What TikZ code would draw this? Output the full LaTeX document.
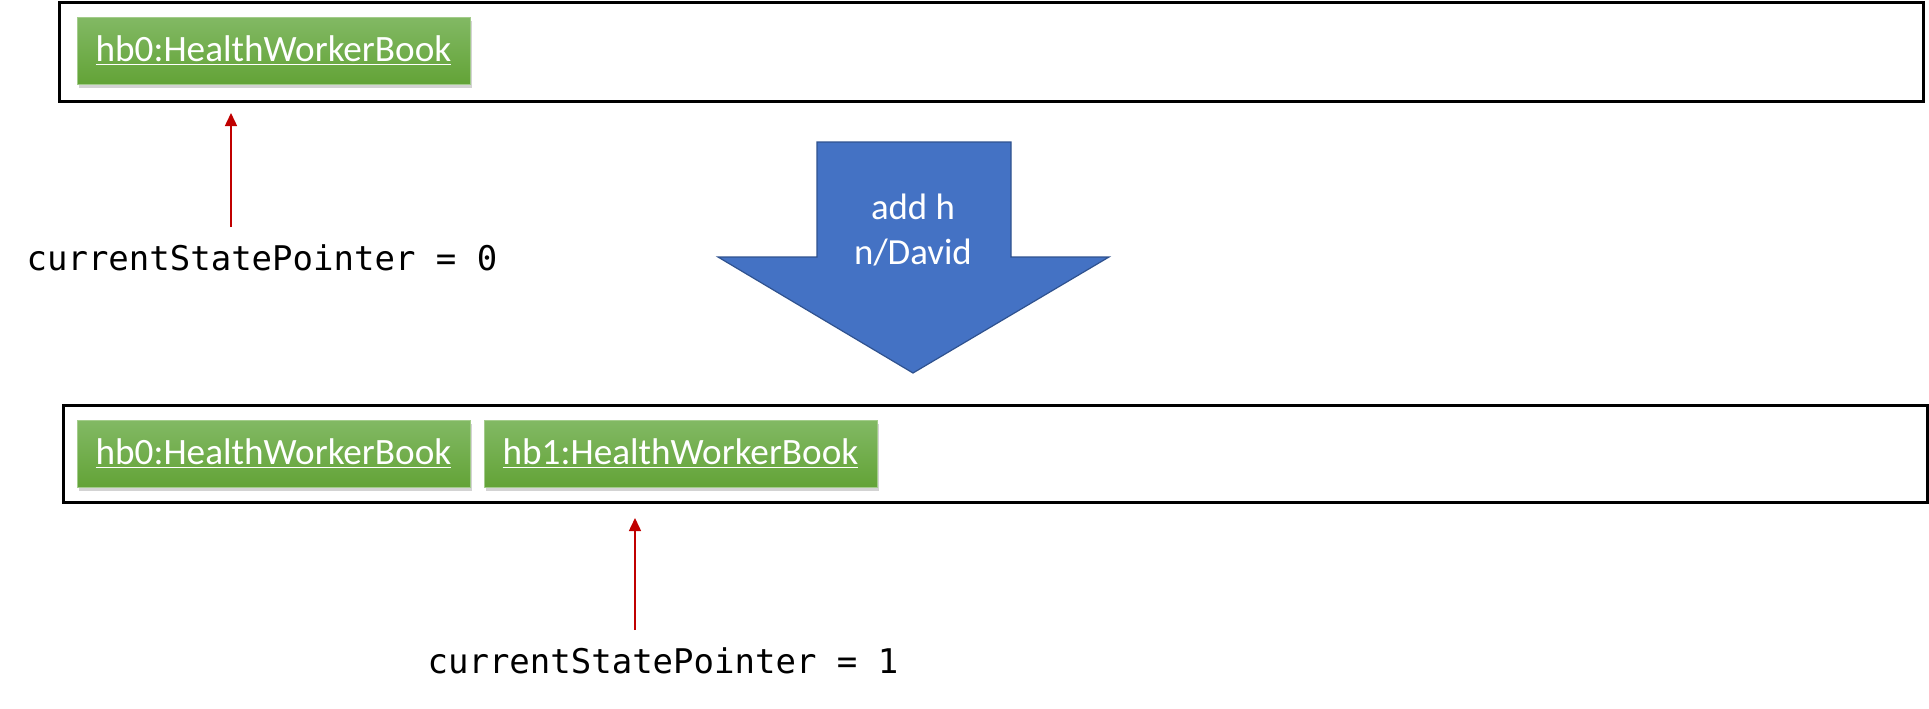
\documentclass[tikz,border=0pt]{standalone}
\usepackage{fontspec}
\setmainfont{Carlito}
\setmonofont{DejaVu Sans Mono}
\usetikzlibrary{arrows.meta,shadows}
\definecolor{booktop}{HTML}{82B964}
\definecolor{bookbot}{HTML}{63A337}
\definecolor{bookedge}{HTML}{A3CC8B}
\definecolor{cmdfill}{HTML}{4472C4}
\definecolor{cmdedge}{HTML}{2F528F}
\definecolor{ptrred}{HTML}{C00000}
\begin{document}
\begin{tikzpicture}[x=0.5pt,y=-0.5pt,
  statebox/.style={draw=black,line width=1.5pt,minimum width=932pt,inner sep=0pt},
  book/.style={draw=bookedge,line width=0.4pt,top color=booktop,bottom color=bookbot,
    minimum width=196.5pt,minimum height=33.5pt,inner sep=0pt,text=white,
    font=\fontsize{18.6}{22}\selectfont,
    drop shadow={shadow xshift=1.2pt,shadow yshift=-2pt,opacity=0.35}},
  pointer/.style={font=\ttfamily\fontsize{17}{20}\selectfont,inner sep=0pt,
    outer ysep=8.5pt,anchor=base},
  ptrarrow/.style={draw=ptrred,line width=0.75pt,-{Triangle[width=6pt,length=6.5pt]}}]
\useasboundingbox (0,0) rectangle (1929,708);
\node[statebox,minimum height=49.5pt] (state0) at(991,51.5) {};
\node[book] (hb0a) at(273.5,50.5) {\underline{hb0:HealthWorkerBook}};
\coordinate (tip0) at(231,113);
\node[pointer] (ptr0) at(262,270) {currentStatePointer = 0};
\draw[ptrarrow] (ptr0.north -| tip0) -- (tip0);
\draw[draw=cmdedge,fill=cmdfill,line width=0.6pt] (817,142) -- (1011,142) -- (1011,257)
       -- (1109,257) -- (913,373) -- (718,257) -- (817,257) -- cycle;
\node[text=white,align=center,font=\fontsize{18.4}{22.5}\selectfont] (cmd) at(913,230)
       {add h\\n/David};
\node[statebox,minimum height=48.5pt] (state1) at(995,453.5) {};
\node[book] (hb0b) at(273.5,453.5) {\underline{hb0:HealthWorkerBook}};
\node[book] (hb1b) at(680.5,453.5) {\underline{hb1:HealthWorkerBook}};
\coordinate (tip1) at(635,518);
\node[pointer] (ptr1) at(663,673) {currentStatePointer = 1};
\draw[ptrarrow] (ptr1.north -| tip1) -- (tip1);
\end{tikzpicture}
\end{document}
